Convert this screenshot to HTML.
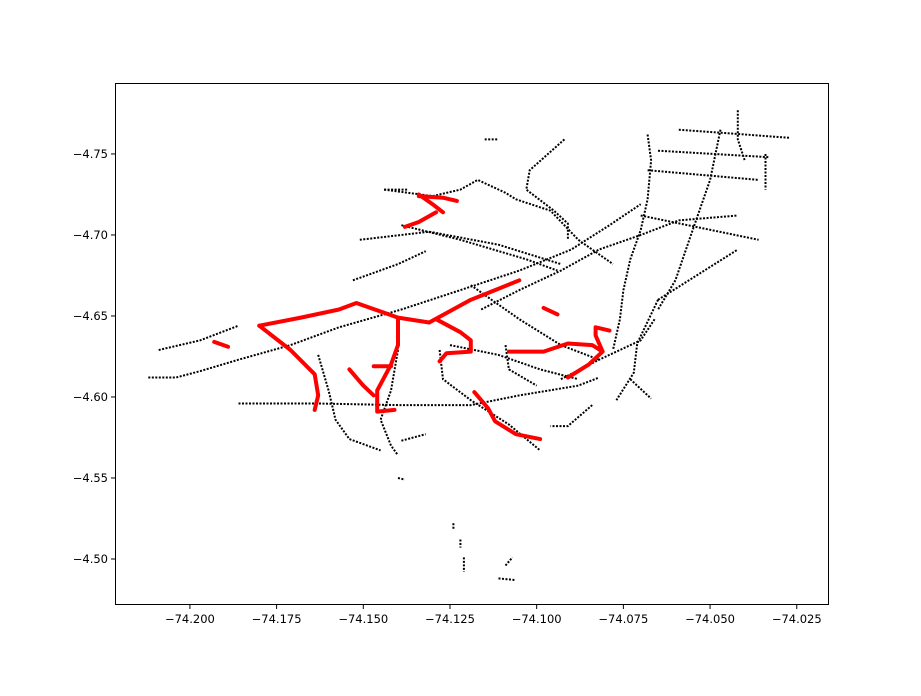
<!DOCTYPE html>
<html><head><meta charset="utf-8"><style>
html,body{margin:0;padding:0;background:#fff;}
svg text{font-family:"DejaVu Sans","Liberation Sans",sans-serif;font-size:11.5px;fill:#000;}
</style></head><body>
<svg id="chart" width="921" height="691" xmlns="http://www.w3.org/2000/svg">
<rect x="0" y="0" width="921" height="691" fill="#fff"/>
<g id="marks"></g>
<rect x="115.5" y="83.5" width="713" height="521" fill="none" stroke="#000" stroke-width="1"/>
<g id="axes"></g>
</svg>
<script>
const xTicks=[-74.200,-74.175,-74.150,-74.125,-74.100,-74.075,-74.050,-74.025];
const xTickLabels=["−74.200","−74.175","−74.150","−74.125","−74.100","−74.075","−74.050","−74.025"];
const yTicks=[-4.75,-4.70,-4.65,-4.60,-4.55,-4.50];
const yTickLabels=["−4.75","−4.70","−4.65","−4.60","−4.55","−4.50"];
const blackTracks=[
[[-74.212,-4.612],[-74.204,-4.612],[-74.197,-4.616],[-74.186,-4.623],[-74.171,-4.632],[-74.157,-4.643],[-74.139,-4.654],[-74.122,-4.666],[-74.105,-4.678],[-74.090,-4.691],[-74.079,-4.706],[-74.070,-4.719]],
[[-74.186,-4.596],[-74.163,-4.596],[-74.140,-4.595],[-74.119,-4.595],[-74.105,-4.601],[-74.088,-4.607],[-74.082,-4.612]],
[[-74.068,-4.762],[-74.067,-4.746],[-74.068,-4.722],[-74.070,-4.703],[-74.073,-4.685],[-74.075,-4.666],[-74.076,-4.648],[-74.078,-4.629]],
[[-74.047,-4.765],[-74.050,-4.734],[-74.056,-4.697],[-74.060,-4.672],[-74.065,-4.654]],
[[-74.042,-4.777],[-74.042,-4.759],[-74.040,-4.746]],
[[-74.092,-4.759],[-74.102,-4.740],[-74.103,-4.728],[-74.095,-4.715],[-74.091,-4.707],[-74.091,-4.697]],
[[-74.116,-4.654],[-74.105,-4.666],[-74.093,-4.678],[-74.082,-4.691],[-74.070,-4.700],[-74.059,-4.709],[-74.042,-4.712]],
[[-74.059,-4.765],[-74.027,-4.760]],
[[-74.065,-4.752],[-74.033,-4.748]],
[[-74.068,-4.740],[-74.036,-4.734]],
[[-74.070,-4.712],[-74.036,-4.697]],
[[-74.065,-4.660],[-74.042,-4.691]],
[[-74.144,-4.728],[-74.130,-4.724],[-74.122,-4.728],[-74.117,-4.734],[-74.109,-4.726],[-74.106,-4.722],[-74.096,-4.715],[-74.088,-4.697],[-74.078,-4.682]],
[[-74.139,-4.706],[-74.122,-4.697],[-74.103,-4.685],[-74.094,-4.678]],
[[-74.151,-4.697],[-74.131,-4.702],[-74.111,-4.694],[-74.093,-4.682]],
[[-74.153,-4.672],[-74.140,-4.682],[-74.132,-4.690]],
[[-74.119,-4.669],[-74.105,-4.648],[-74.093,-4.632],[-74.082,-4.623]],
[[-74.140,-4.629],[-74.142,-4.604],[-74.145,-4.586],[-74.142,-4.570],[-74.140,-4.564]],
[[-74.128,-4.629],[-74.127,-4.611],[-74.119,-4.598],[-74.108,-4.583],[-74.099,-4.567]],
[[-74.163,-4.626],[-74.160,-4.604],[-74.158,-4.586],[-74.154,-4.574],[-74.145,-4.567]],
[[-74.125,-4.632],[-74.111,-4.626],[-74.099,-4.617],[-74.088,-4.611]],
[[-74.109,-4.632],[-74.108,-4.617],[-74.100,-4.607]],
[[-74.084,-4.595],[-74.091,-4.582],[-74.096,-4.582]],
[[-74.065,-4.660],[-74.071,-4.633],[-74.072,-4.615],[-74.077,-4.598]],
[[-74.209,-4.629],[-74.197,-4.635],[-74.186,-4.644]],
[[-74.034,-4.750],[-74.034,-4.728]],
[[-74.093,-4.611],[-74.082,-4.623],[-74.070,-4.635],[-74.066,-4.648]],
[[-74.073,-4.611],[-74.067,-4.599]],
[[-74.124,-4.522],[-74.124,-4.518]],
[[-74.122,-4.512],[-74.122,-4.507]],
[[-74.121,-4.501],[-74.121,-4.492]],
[[-74.111,-4.488],[-74.106,-4.487]],
[[-74.109,-4.496],[-74.107,-4.501]],
[[-74.140,-4.550],[-74.138,-4.549]],
[[-74.139,-4.573],[-74.132,-4.577]],
[[-74.115,-4.759],[-74.111,-4.759]],
[[-74.144,-4.728],[-74.137,-4.728]]
];
const redTracks=[
[[-74.180,-4.644],[-74.171,-4.629],[-74.164,-4.614],[-74.163,-4.601],[-74.164,-4.592]],
[[-74.180,-4.644],[-74.168,-4.649],[-74.157,-4.654],[-74.152,-4.658],[-74.148,-4.655],[-74.140,-4.649],[-74.131,-4.646]],
[[-74.131,-4.646],[-74.119,-4.660],[-74.112,-4.666],[-74.105,-4.672]],
[[-74.129,-4.648],[-74.122,-4.640],[-74.119,-4.635],[-74.119,-4.628],[-74.126,-4.627],[-74.128,-4.622]],
[[-74.140,-4.648],[-74.140,-4.632],[-74.142,-4.620],[-74.146,-4.604],[-74.146,-4.591],[-74.141,-4.592]],
[[-74.154,-4.617],[-74.150,-4.607],[-74.147,-4.601]],
[[-74.147,-4.619],[-74.142,-4.619]],
[[-74.118,-4.603],[-74.114,-4.593],[-74.112,-4.585],[-74.106,-4.577],[-74.099,-4.574]],
[[-74.098,-4.655],[-74.094,-4.651]],
[[-74.108,-4.628],[-74.098,-4.628],[-74.091,-4.633],[-74.084,-4.632],[-74.081,-4.628],[-74.083,-4.638],[-74.083,-4.643],[-74.079,-4.641]],
[[-74.091,-4.612],[-74.085,-4.620],[-74.081,-4.628]],
[[-74.134,-4.725],[-74.130,-4.719],[-74.127,-4.714]],
[[-74.134,-4.724],[-74.127,-4.723],[-74.123,-4.721]],
[[-74.138,-4.705],[-74.134,-4.708],[-74.129,-4.714]],
[[-74.193,-4.634],[-74.189,-4.631]]
];
const NS="http://www.w3.org/2000/svg";
const X0=115,X1=829,Y0=83,Y1=605;
const xMin=-74.2216,xMax=-74.0157,yMin=-4.7938,yMax=-4.4716;
function sx(v){return X0+(v-xMin)/(xMax-xMin)*(X1-X0);}
function sy(v){return Y0+(v-yMin)/(yMax-yMin)*(Y1-Y0);}
const marks=document.getElementById('marks');
function draw(tracks,color,w,dash,cap,name){
  tracks.forEach((t,i)=>{
    const p=document.createElementNS(NS,'polyline');
    p.setAttribute('points',t.map(q=>sx(q[0]).toFixed(1)+','+sy(q[1]).toFixed(1)).join(' '));
    p.setAttribute('fill','none');p.setAttribute('stroke',color);p.setAttribute('stroke-width',w);
    p.setAttribute('stroke-linecap',cap);p.setAttribute('stroke-linejoin','round');
    if(dash)p.setAttribute('stroke-dasharray',dash);
    
    
    marks.appendChild(p);
  });
}
draw(blackTracks,'#000',2,'2 1.5','butt','black-track');
draw(redTracks,'#f00',4,null,'round','red-track');
const axes=document.getElementById('axes');
xTicks.forEach((v,i)=>{
  const x=sx(v);
  const l=document.createElementNS(NS,'line');
  l.setAttribute('x1',x);l.setAttribute('x2',x);l.setAttribute('y1',Y1);l.setAttribute('y2',Y1+4);l.setAttribute('stroke','#000');
  
  
  axes.appendChild(l);
  const t=document.createElementNS(NS,'text');
  t.setAttribute('x',x);t.setAttribute('y',Y1+18);t.setAttribute('text-anchor','middle');t.textContent=xTickLabels[i];
  
  
  axes.appendChild(t);
});
yTicks.forEach((v,i)=>{
  const y=sy(v);
  const l=document.createElementNS(NS,'line');
  l.setAttribute('x1',X0-4);l.setAttribute('x2',X0);l.setAttribute('y1',y);l.setAttribute('y2',y);l.setAttribute('stroke','#000');
  
  
  axes.appendChild(l);
  const t=document.createElementNS(NS,'text');
  t.setAttribute('x',X0-7);t.setAttribute('y',y+4);t.setAttribute('text-anchor','end');t.textContent=yTickLabels[i];
  
  
  axes.appendChild(t);
});
</script>
</body></html>
